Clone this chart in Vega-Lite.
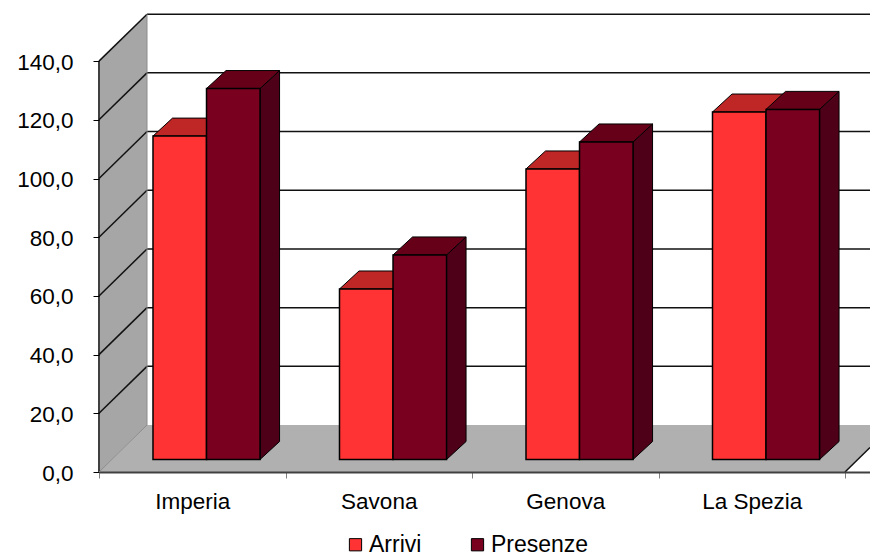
{
"$schema":"https://vega.github.io/schema/vega-lite/v6.json",
"width":771,"height":459,
"autosize":{"type":"none"},
"padding":{"left":99,"top":13,"right":0,"bottom":82},
"background":"white",
"config":{"view":{"stroke":null},"font":"Liberation Sans"},
"datasets":{
"bars":[
{"region":"Imperia","series":"Arrivi","value":110.2},
{"region":"Imperia","series":"Presenze","value":126.4},
{"region":"Savona","series":"Arrivi","value":58.1},
{"region":"Savona","series":"Presenze","value":69.7},
{"region":"Genova","series":"Arrivi","value":99.0},
{"region":"Genova","series":"Presenze","value":108.2},
{"region":"La Spezia","series":"Arrivi","value":118.4},
{"region":"La Spezia","series":"Presenze","value":119.3}
],
"ticks":[{"tick":0},{"tick":20},{"tick":40},{"tick":60},{"tick":80},{"tick":100},{"tick":120},{"tick":140}],
"depth":[{"d":0},{"d":1}]
},
"layer":[
{
"data":{"name":"depth"},
"transform":[{"calculate":"0.2574*datum.d","as":"x"},{"calculate":"4+0.2574*datum.d","as":"x2"},{"calculate":"16*datum.d","as":"y"}],
"mark":{"type":"area","orient":"horizontal","fill":"#b0b0b0","clip":true},
"encoding":{
"x":{"field":"x","type":"quantitative","scale":{"domain":[0,4.134],"nice":false,"zero":false},
"axis":{"title":null,"values":[0,0.5,1,1.5,2,2.5,3,3.5,4],"grid":false,"labelFontSize":22.5,"labelColor":"#000","labelPadding":12,"tickSize":6,"tickColor":{"expr":"datum.value % 1 == 0 ? '#808080' : 'transparent'"},"domainColor":"#404040","domainWidth":2,"labelFlush":false,"labelOverlap":false,"zindex":1,
"labelExpr":"datum.value==0.5?'Imperia':datum.value==1.5?'Savona':datum.value==2.5?'Genova':datum.value==3.5?'La Spezia':''"}},
"x2":{"field":"x2"},
"y":{"field":"y","type":"quantitative","scale":{"domain":[0,156.4],"nice":false,"zero":false},
"axis":{"title":null,"values":[0,20,40,60,80,100,120,140],"grid":false,"domain":false,"labelFontSize":22.5,"labelColor":"#000","labelPadding":20,"labelOffset":1,"tickSize":6,"tickColor":"#000","zindex":1,
"labelExpr":"replace(format(datum.value,'.1f'),'.',',')"}}
}
},
{
"data":{"name":"depth"},
"transform":[{"calculate":"0.2574*datum.d","as":"x"},{"calculate":"16*datum.d","as":"y"},{"calculate":"140+16*datum.d","as":"y2"}],
"mark":{"type":"area","fill":"#a6a6a6"},
"encoding":{"x":{"field":"x","type":"quantitative"},"y":{"field":"y","type":"quantitative"},"y2":{"field":"y2"}}
},
{
"data":{"values":[{"a":0,"c":0,"e":140}]},
"mark":{"type":"rule","color":"#404040","strokeWidth":2},
"encoding":{"x":{"field":"a","type":"quantitative"},"y":{"field":"c","type":"quantitative"},"y2":{"field":"e"}}
},
{
"data":{"name":"ticks"},
"transform":[{"filter":"datum.tick>0"},{"calculate":"0","as":"x0"},{"calculate":"0.2574","as":"x1"},{"calculate":"datum.tick+16","as":"yb"}],
"mark":{"type":"rule","color":"#111","strokeWidth":1.5},
"encoding":{"x":{"field":"x0","type":"quantitative"},"x2":{"field":"x1"},"y":{"field":"tick","type":"quantitative"},"y2":{"field":"yb"}}
},
{
"data":{"name":"ticks"},
"transform":[{"calculate":"0.2574","as":"x0"},{"calculate":"4.134","as":"x1"},{"calculate":"datum.tick+16","as":"yb"},{"filter":"datum.tick>0"}],
"mark":{"type":"rule","color":"#111","strokeWidth":1.5},
"encoding":{"x":{"field":"x0","type":"quantitative"},"x2":{"field":"x1"},"y":{"field":"yb","type":"quantitative"}}
},
{
"data":{"values":[{"a":0,"b":0.2574,"c":0,"e":16}]},
"mark":{"type":"rule","color":"#8c8c8c","strokeWidth":1},
"encoding":{"x":{"field":"a","type":"quantitative"},"x2":{"field":"b"},"y":{"field":"c","type":"quantitative"},"y2":{"field":"e"}}
},
{
"data":{"values":[{"a":0.2574,"c":16,"e":156}]},
"mark":{"type":"rule","color":"#8c8c8c","strokeWidth":1},
"encoding":{"x":{"field":"a","type":"quantitative"},"y":{"field":"c","type":"quantitative"},"y2":{"field":"e"}}
},
{
"data":{"values":[{"a":4,"b":4.134,"c":0,"e":8.33}]},
"mark":{"type":"rule","color":"#111","strokeWidth":1.5},
"encoding":{"x":{"field":"a","type":"quantitative"},"x2":{"field":"b"},"y":{"field":"c","type":"quantitative"},"y2":{"field":"e"}}
},
{
"data":{"name":"bars"},
"transform":[
{"calculate":"indexof(['Imperia','Savona','Genova','La Spezia'],datum.region)+0.2895+(datum.series=='Arrivi'?0:0.287)","as":"x0"},
{"calculate":"datum.x0+0.287","as":"x1"},
{"calculate":"datum.region+datum.series","as":"bar"},
{"calculate":"[0,1]","as":"t"},{"flatten":["t"]},
{"calculate":"datum.x1+datum.t*0.1046","as":"sx"},
{"calculate":"4.26+datum.t*6.13","as":"sy"},
{"calculate":"4.26+datum.value+datum.t*6.13","as":"sy2"}
],
"mark":{"type":"area","stroke":"#000","strokeWidth":1},
"encoding":{
"x":{"field":"sx","type":"quantitative"},"y":{"field":"sy","type":"quantitative"},"y2":{"field":"sy2"},
"detail":{"field":"bar"},
"color":{"field":"series","type":"nominal","legend":null,"scale":{"domain":["Arrivi","Presenze"],"range":["#a82020","#4d0018"]}}
}
},
{
"data":{"name":"bars"},
"transform":[
{"calculate":"indexof(['Imperia','Savona','Genova','La Spezia'],datum.region)+0.2895+(datum.series=='Arrivi'?0:0.287)","as":"x0"},
{"calculate":"datum.x0+0.287","as":"x1"},
{"calculate":"datum.region+datum.series","as":"bar"},
{"calculate":"[0,1]","as":"t"},{"flatten":["t"]},
{"calculate":"datum.x0+datum.t*0.1046","as":"tx"},
{"calculate":"datum.x1+datum.t*0.1046","as":"tx2"},
{"calculate":"4.26+datum.value+datum.t*6.13","as":"ty"}
],
"mark":{"type":"area","orient":"horizontal","stroke":"#000","strokeWidth":1},
"encoding":{
"x":{"field":"tx","type":"quantitative"},"x2":{"field":"tx2"},"y":{"field":"ty","type":"quantitative"},
"detail":{"field":"bar"},
"color":{"field":"series","type":"nominal","legend":null,"scale":{"domain":["Arrivi","Presenze"],"range":["#bf2626","#660019"]}}
}
},
{
"data":{"name":"bars"},
"transform":[
{"calculate":"indexof(['Imperia','Savona','Genova','La Spezia'],datum.region)+0.2895+(datum.series=='Arrivi'?0:0.287)","as":"x0"},
{"calculate":"datum.x0+0.287","as":"x1"},
{"calculate":"4.26","as":"base"},
{"calculate":"4.26+datum.value","as":"top"}
],
"mark":{"type":"rect","stroke":"#000","strokeWidth":1.5},
"encoding":{
"x":{"field":"x0","type":"quantitative"},"x2":{"field":"x1"},
"y":{"field":"base","type":"quantitative"},"y2":{"field":"top"},
"color":{"field":"series","type":"nominal","scale":{"domain":["Arrivi","Presenze"],"range":["#ff3333","#7a0020"]},
"legend":{"title":null,"orient":"none","legendX":245,"legendY":520,"direction":"horizontal","columns":2,"columnPadding":44,"symbolType":"square","symbolSize":150,"symbolStrokeColor":"#000","symbolStrokeWidth":1,"labelFontSize":23,"labelColor":"#000","labelOffset":2}}
}
}
],
"resolve":{"scale":{"color":"independent"}}
}
